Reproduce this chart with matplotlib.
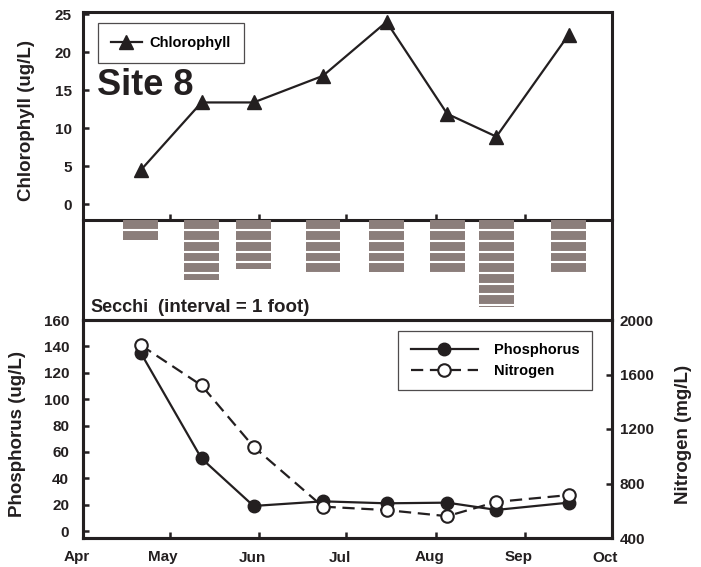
import matplotlib
matplotlib.use("Agg")
import matplotlib.pyplot as plt
import matplotlib.dates as mdates
from matplotlib.transforms import ScaledTranslation
import pandas as pd

plt.rcParams['font.family'] = ['Liberation Sans', 'DejaVu Sans']
plt.rcParams['font.weight'] = 'bold'
plt.rcParams['axes.labelweight'] = 'bold'

INK = '#231f20'
SECCHI_COLOR = '#8b7e7b'

# sampling dates and measurements, site 8
sample_dates = ['2000-04-21', '2000-05-12', '2000-05-30', '2000-06-23',
                '2000-07-15', '2000-08-05', '2000-08-22', '2000-09-16']
chlorophyll = [4.5, 13.4, 13.4, 16.9, 24.0, 11.9, 8.9, 22.3]       # ug/L
secchi_ft = [1.9, 5.7, 4.6, 5.15, 4.9, 5.05, 8.2, 5.15]             # feet
phosphorus = [135, 55, 19, 22.5, 21, 21.5, 16, 21.5]               # ug/L
nitrogen = [1815, 1520, 1070, 630, 605, 560, 665, 715]             # mg/L

month_starts = ['2000-04-01', '2000-05-01', '2000-06-01', '2000-07-01',
                '2000-08-01', '2000-09-01', '2000-10-01']
month_labels = ['Apr', 'May', 'Jun', 'Jul', 'Aug', 'Sep', 'Oct']

x = mdates.date2num(pd.to_datetime(sample_dates))
months = mdates.date2num(pd.to_datetime(month_starts))

W, H = 701, 567
fig = plt.figure(figsize=(W / 100, H / 100), dpi=100)


def px_axes(left, top, right, bottom):
    return fig.add_axes([left / W, 1 - bottom / H, (right - left) / W, (bottom - top) / H])


ax_top = px_axes(83, 12, 612, 219.5)
ax_mid = px_axes(83, 219.5, 612, 320)
ax_bot = px_axes(83, 320, 612, 538)
ax_n = ax_bot.twinx()

for ax in (ax_top, ax_mid, ax_bot, ax_n):
    ax.set_xlim(months[0], months[-1])
    for sp in ax.spines.values():
        sp.set_linewidth(2.2)
        sp.set_color(INK)
    ax.tick_params(direction='in', length=4.5, width=1.8, color=INK,
                   labelsize=11, labelcolor=INK)

# --- chlorophyll ---
ax_top.plot(x, chlorophyll, color=INK, lw=1.6, marker='^', ms=10,
            label='Chlorophyll')
ax_top.set_ylim(-2.0, 25.3)
ax_top.set_yticks([0, 5, 10, 15, 20, 25])
ax_top.set_xticks(months)
ax_top.tick_params(axis='x', labelbottom=False)
ax_top.tick_params(axis='y', pad=8)
ax_top.set_ylabel('Chlorophyll (ug/L)', fontsize=13.5, color=INK)
ax_top.yaxis.set_label_coords(-56 / 529, 0.477)
ax_top.yaxis.label.set_va('center')
leg = ax_top.legend(loc='upper left', bbox_to_anchor=(0.028, 0.947),
                    borderaxespad=0, fancybox=False, edgecolor=INK,
                    fontsize=10.5, handlelength=2.1, handletextpad=0.55,
                    borderpad=0.9)
leg.get_frame().set_linewidth(0.9)
ax_top.text(0.026, 0.6, 'Site 8', transform=ax_top.transAxes,
            fontsize=26, color=INK, va='baseline', ha='left')

# --- secchi depth, one band per foot ---
half = 6.0
ax_mid.patch.set_visible(False)
ax_mid.bar(x, secchi_ft, width=2 * half, color=SECCHI_COLOR, zorder=2)
for xi, d in zip(x, secchi_ft):
    k = 1
    while k < d:
        ax_mid.hlines(k, xi - half, xi + half, color='white', lw=1.5, zorder=3)
        k += 1
ax_mid.set_ylim(9.42, 0)
ax_mid.set_xticks([])
ax_mid.set_yticks([])
ax_mid.spines['top'].set_visible(False)
ax_mid.spines['bottom'].set_visible(False)
ax_mid.text(7 / 529, 0.08, 'Secchi', transform=ax_mid.transAxes,
            fontsize=13, color=INK, va='baseline')
ax_mid.text(75 / 529, 0.08, '(interval = 1 foot)', transform=ax_mid.transAxes,
            fontsize=13.5, color=INK, va='baseline')

# --- nutrients ---
ln_p, = ax_bot.plot(x, phosphorus, color=INK, lw=1.6, marker='o', ms=9,
                    mfc=INK, mec=INK, label='Phosphorus')
ln_n, = ax_n.plot(x, nitrogen, color=INK, lw=1.6, ls=(0, (5.5, 3)),
                  marker='o', ms=9, mfc='white', mec=INK, mew=1.5,
                  label='Nitrogen')
ax_bot.set_ylim(-5.3, 160)
ax_bot.set_yticks(range(0, 161, 20))
ax_n.set_ylim(400, 2000)
ax_n.set_yticks([400, 800, 1200, 1600, 2000])
ax_bot.tick_params(axis='y', pad=10)
ax_n.tick_params(axis='y', pad=5.5)
ax_bot.set_xticks(months)
ax_bot.set_xticklabels(month_labels)
ax_bot.tick_params(axis='x', pad=9)
shift = ScaledTranslation(-0.065, 0, fig.dpi_scale_trans)
for lab in ax_bot.get_xticklabels():
    lab.set_transform(lab.get_transform() + shift)

ax_bot.set_ylabel('Phosphorus (ug/L)', fontsize=13.5, color=INK)
ax_bot.yaxis.set_label_coords(-65 / 529, 0.477)
ax_bot.yaxis.label.set_va('center')
ax_n.set_ylabel('Nitrogen (mg/L)', fontsize=13.5, color=INK, rotation=90)
ax_n.yaxis.set_label_coords(600 / 529, 0.477)
ax_n.yaxis.label.set_va('center')

leg2 = ax_n.legend([ln_p, ln_n], ['Phosphorus', 'Nitrogen'], loc='upper right',
                   bbox_to_anchor=(0.962, 0.9495), borderaxespad=0,
                   fancybox=False, edgecolor=INK, fontsize=10.5,
                   handlelength=4.6, handletextpad=1.1, labelspacing=0.45,
                   borderpad=0.85)
leg2.get_frame().set_linewidth(0.9)

fig.savefig('out.png', dpi=100)
